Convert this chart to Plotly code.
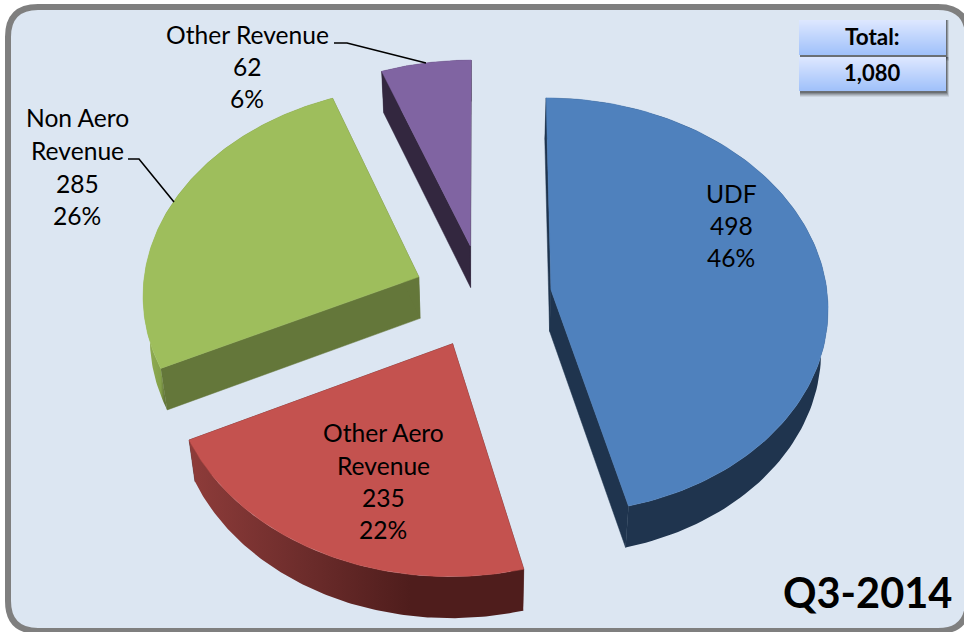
import numpy as np
import plotly.graph_objects as go

# ---- data ----
categories = ["UDF", "Other Aero Revenue", "Non Aero Revenue", "Other Revenue"]
values = [498, 235, 285, 62]
label_lines = [["UDF"], ["Other Aero", "Revenue"], ["Non Aero", "Revenue"], ["Other Revenue"]]
total_label = "Total:"
period_label = "Q3-2014"

# ---- styles ----
BG, FRAME = "#DCE6F2", "#7F7F7F"
TOP = ["#4F81BD", "#C4524F", "#9EBE5C", "#8064A2"]
CUT = ["#1F344E", "#4F1D1C", "#64773A", "#33273F"]
WALL_SCALE = [
    [[0, "#1F344E"], [1, "#1F344E"]],
    [[0, "#8E3C3A"], [0.35, "#6C2C2B"], [0.66, "#4F1D1C"], [1, "#4F1D1C"]],
    [[0, "#94B254"], [0.09, "#84A04A"], [0.11, "#64773A"], [1, "#64773A"]],
    [[0, "#33273F"], [1, "#33273F"]],
]
FONT = "Lato, Carlito, Calibri, sans-serif"
LABEL_POS = [
    dict(x=731, y=[193, 225, 257]),
    dict(x=383, y=[432, 465, 497, 529]),
    dict(x=77, y=[117, 150, 183, 215]),
    dict(x=247, y=[34, 66, 98]),
]

# projection of the tilted pie plane onto the page
CX, CY, A, B, K = 482.5, 296, 276.5, 207.4, 0.0765
PULL, DEPTH, SQUEEZE = 0.25, 41.5, 0.98


def project(X, Y):
    w = 1 - K * Y
    return CX + A * X / w, CY + B * Y / w


def lower(x, y):
    return CX + (np.asarray(x) - CX) * SQUEEZE, np.asarray(y) + DEPTH


fig = go.Figure()


def poly(x, y, color=None, scale=None, start=None, stop=None):
    kw = dict(x=list(x), y=list(y), mode="lines", fill="toself", hoverinfo="skip",
              showlegend=False, line=dict(width=0))
    if scale is not None:
        g = dict(type="horizontal", colorscale=scale)
        if start is not None:
            g.update(start=start, stop=stop)
        kw["fillgradient"] = g
    else:
        kw["fillcolor"] = color
        kw["line"] = dict(width=0.5, color=color)
    fig.add_trace(go.Scatter(**kw))


fractions = np.array(values) / sum(values)
edges = np.concatenate([[0], np.cumsum(fractions)]) * 2 * np.pi
for i in [3, 2, 0, 1]:
    t0, t1 = edges[i], edges[i + 1]
    mid = (t0 + t1) / 2
    ox, oy = PULL * np.sin(mid), -PULL * np.cos(mid)
    th = np.linspace(t0, t1, 120)
    ax, ay = project(ox, oy)
    rx, ry = project(ox + np.sin(th), oy - np.cos(th))
    bax, bay = lower(ax, ay)
    brx, bry = lower(rx, ry)
    # cut faces
    for k in (0, -1):
        poly([ax, rx[k], brx[k], bax, ax], [ay, ry[k], bry[k], bay, ay], color=CUT[i])
    # outer wall
    wx = np.concatenate([rx, brx[::-1], rx[:1]])
    wy = np.concatenate([ry, bry[::-1], ry[:1]])
    if i == 2:
        poly(wx, wy, scale=WALL_SCALE[i], start=144, stop=330)
    else:
        poly(wx, wy, scale=WALL_SCALE[i])
    # top face
    poly(np.concatenate([[ax], rx, [ax]]), np.concatenate([[ay], ry, [ay]]), color=TOP[i])

# leader lines
for lx, ly in [([334, 347, 426], [43, 43, 63]), ([128, 139, 174], [159, 159, 202])]:
    fig.add_trace(go.Scatter(x=lx, y=ly, mode="lines", hoverinfo="skip", showlegend=False,
                             line=dict(color="#000000", width=1.6)))

# total boxes with soft shadow
for (y0, y1) in [(20, 55), (57, 91)]:
    for s, op in [(6, 0.07), (5, 0.1), (4, 0.13), (3, 0.16), (2, 0.2)]:
        fig.add_shape(type="rect", xref="x", yref="y", x0=800, x1=946 + s / 2, y0=y0, y1=y1 + s,
                      fillcolor=f"rgba(0,0,0,{op})", line_width=0, layer="above")
annos = []


def text(x, y, s, size, bold=False):
    annos.append(dict(x=x, y=y, xref="x", yref="y", text=f"<b>{s}</b>" if bold else s,
                      showarrow=False, xanchor="center", yanchor="middle",
                      font=dict(family=FONT, size=size, color="#000000")))


for i, pos in enumerate(LABEL_POS):
    lines = label_lines[i] + [f"{values[i]}", f"{round(fractions[i] * 100)}%"]
    for s, y in zip(lines, pos["y"]):
        text(pos["x"], y, s, 24.6)
text(872, 36, total_label, 22.5, True)
text(872, 72, f"{sum(values):,}", 22, True)
text(867, 592, period_label, 41.5, True)

# rounded frame
L, T, R, Bt, C = 8, 7, 968, 631, 30
frame = (f"M {L + C} {T} L {R - C} {T} Q {R} {T} {R} {T + C} L {R} {Bt - C} Q {R} {Bt} {R - C} {Bt} "
         f"L {L + C} {Bt} Q {L} {Bt} {L} {Bt - C} L {L} {T + C} Q {L} {T} {L + C} {T} Z")
fig.add_shape(type="path", xref="x", yref="y", path=frame, fillcolor=BG,
              line=dict(color=FRAME, width=6), layer="below")

# box faces drawn on top of the shadows, as stacked bands
GRAD_TOP, GRAD_BOTTOM = np.array([221, 231, 255]), np.array([160, 193, 250])
for (y0, y1) in [(20, 55), (57, 91)]:
    n = y1 - y0
    for j in range(n):
        c = GRAD_TOP + (GRAD_BOTTOM - GRAD_TOP) * (j / (n - 1))
        fig.add_shape(type="rect", xref="x", yref="y", x0=799, x1=946, y0=y0 + j, y1=y0 + j + 1,
                      fillcolor=f"rgb({c[0]:.0f},{c[1]:.0f},{c[2]:.0f})", line_width=0, layer="above")

fig.update_layout(
    width=964, height=632, margin=dict(l=0, r=0, t=0, b=0),
    paper_bgcolor="#FFFFFF", plot_bgcolor="rgba(0,0,0,0)", showlegend=False,
    xaxis=dict(range=[0, 964], visible=False, fixedrange=True),
    yaxis=dict(range=[632, 0], visible=False, fixedrange=True),
    annotations=annos,
)
fig.write_html("out.html", config={"displayModeBar": False},
               post_script="document.body.style.margin='0';document.body.style.overflow='hidden';")
